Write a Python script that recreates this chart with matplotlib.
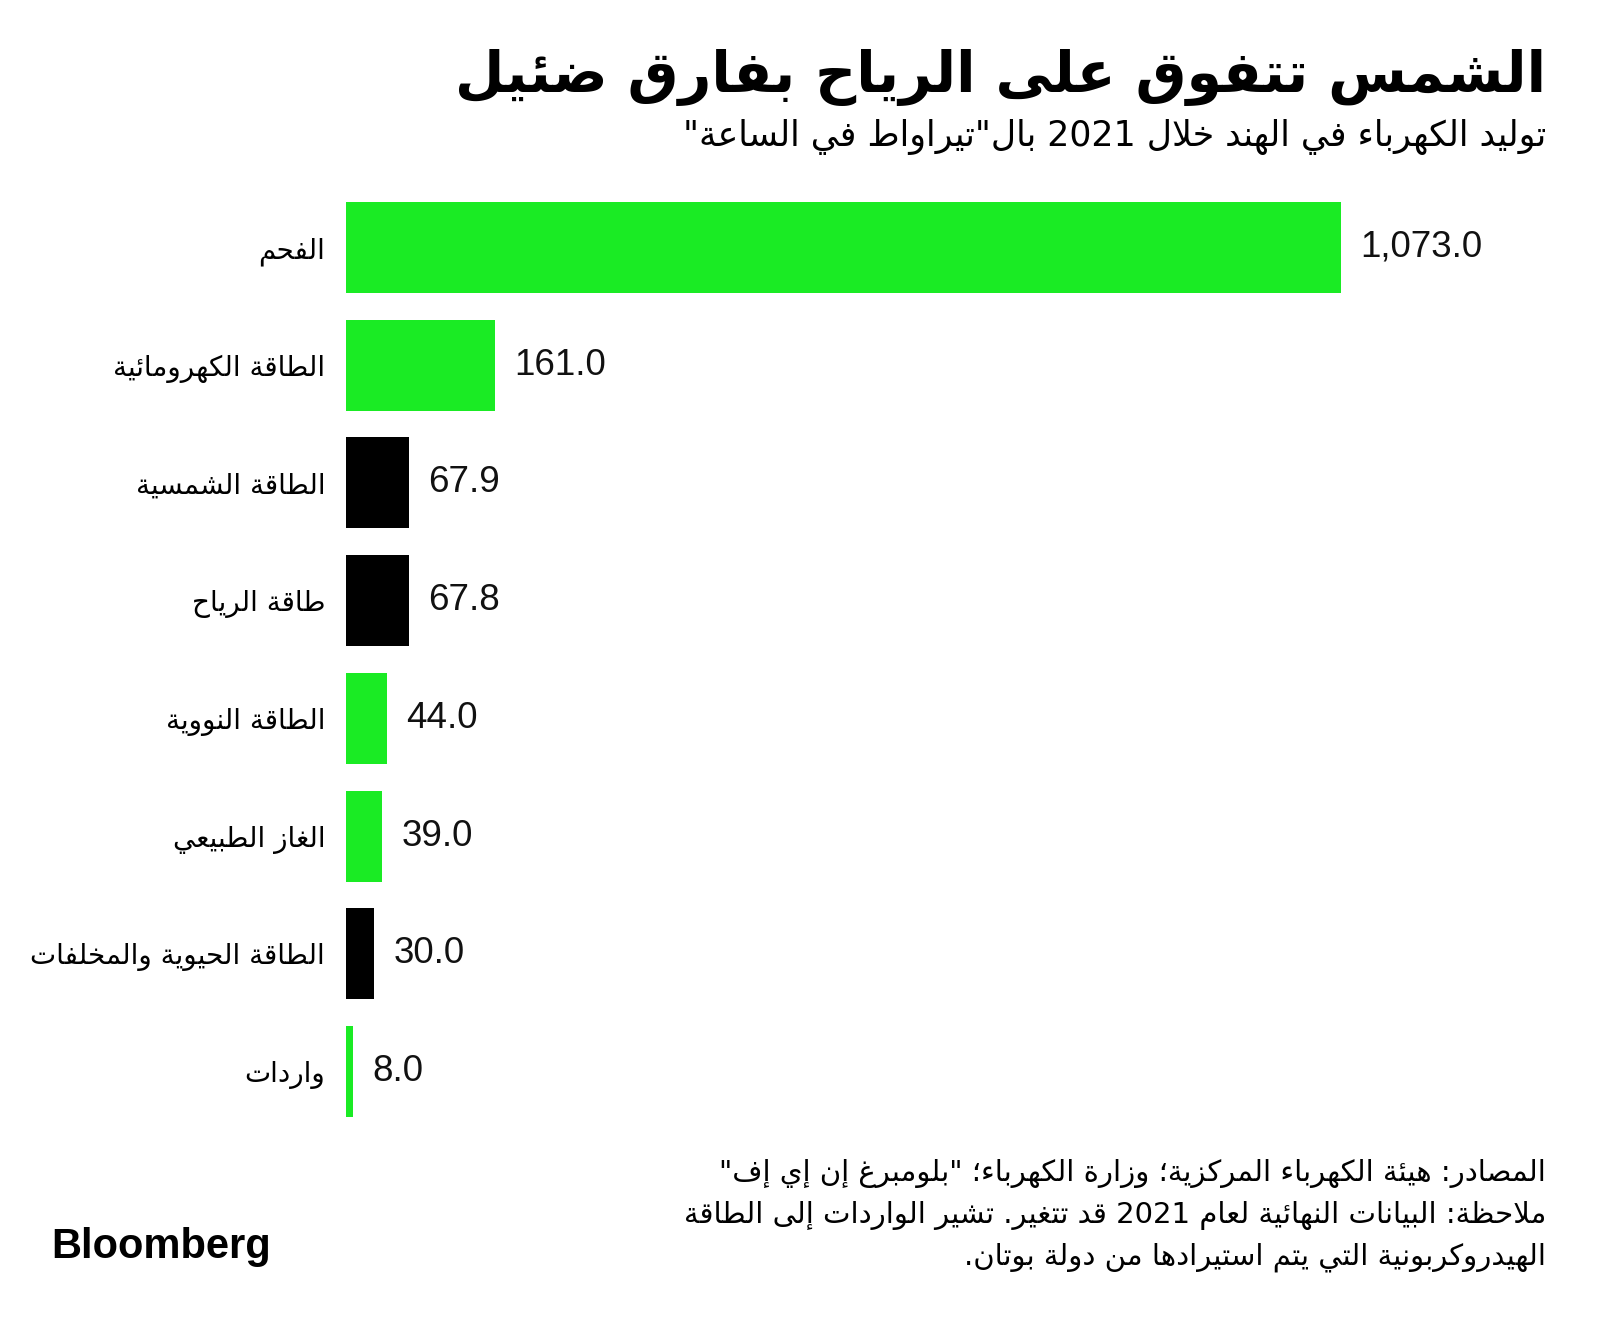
import re
import matplotlib
matplotlib.use("Agg")
import matplotlib.pyplot as plt

# ---------------- data ----------------
categories = ["الفحم", "الطاقة الكهرومائية", "الطاقة الشمسية", "طاقة الرياح",
              "الطاقة النووية", "الغاز الطبيعي", "الطاقة الحيوية والمخلفات", "واردات"]
values = [1073.0, 161.0, 67.9, 67.8, 44.0, 39.0, 30.0, 8.0]
highlight = [False, False, True, True, False, False, True, False]

title = "الشمس تتفوق على الرياح بفارق ضئيل"
subtitle = 'توليد الكهرباء في الهند خلال 2021 بال"تيراواط في الساعة"'
footer_lines = [
    'المصادر: هيئة الكهرباء المركزية؛ وزارة الكهرباء؛ "بلومبرغ إن إي إف"',
    "ملاحظة: البيانات النهائية لعام 2021 قد تتغير. تشير الواردات إلى الطاقة",
    "الهيدروكربونية التي يتم استيرادها من دولة بوتان.",
]
logo = "Bloomberg"

GREEN = "#1aeb24"
BLACK = "#000000"

# ---------------- minimal Arabic shaping + bidi ----------------
_LETTERS = ("\u0621\u0622\u0623\u0624\u0625\u0626\u0627\u0628\u0629\u062A\u062B\u062C\u062D"
            "\u062E\u062F\u0630\u0631\u0632\u0633\u0634\u0635\u0636\u0637\u0638\u0639\u063A"
            "\u0641\u0642\u0643\u0644\u0645\u0646\u0647\u0648\u0649\u064A")
_NFORMS = [1, 2, 2, 2, 2, 4, 2, 4, 2, 4, 4, 4, 4, 4, 2, 2, 2, 2, 4, 4, 4, 4, 4, 4, 4, 4,
           4, 4, 4, 4, 4, 4, 4, 2, 2, 4]
_TABLE = {}
_code = 0xFE80
for _ch, _n in zip(_LETTERS, _NFORMS):
    _TABLE[_ch] = (_code, _n)
    _code += _n
_LAMALEF = {"\u0622": 0xFEF5, "\u0623": 0xFEF7, "\u0625": 0xFEF9, "\u0627": 0xFEFB}


def _shape(s):
    units = []
    i = 0
    while i < len(s):
        c = s[i]
        if c == "\u0644" and i + 1 < len(s) and s[i + 1] in _LAMALEF:
            units.append(("LA", s[i + 1]))
            i += 2
        else:
            units.append(("C", c))
            i += 1

    def jt(u):
        if u[0] == "LA":
            return "R"
        if u[1] in _TABLE:
            n = _TABLE[u[1]][1]
            return "D" if n == 4 else ("R" if n == 2 else "U")
        return "U"

    out = []
    for k, u in enumerate(units):
        t = jt(u)
        prev = jt(units[k - 1]) if k > 0 else "U"
        nxt = jt(units[k + 1]) if k + 1 < len(units) else "U"
        jp = t in ("D", "R") and prev == "D"
        jn = t == "D" and nxt in ("D", "R")
        kind, c = u
        if kind == "LA":
            out.append(chr(_LAMALEF[c] + (1 if jp else 0)))
        elif c in _TABLE:
            base, n = _TABLE[c]
            if n == 1:
                out.append(chr(base))
            elif n == 2:
                out.append(chr(base + (1 if jp else 0)))
            else:
                f = 3 if (jp and jn) else 2 if jn else 1 if jp else 0
                out.append(chr(base + f))
        else:
            out.append(c)
    return "".join(out)


_LTR = re.compile(r"[0-9A-Za-z]+(?:[.,][0-9A-Za-z]+)*")


def rtl(s):
    s = _shape(s)
    parts = []
    pos = 0
    for m in _LTR.finditer(s):
        if m.start() > pos:
            parts.append(s[pos:m.start()][::-1])
        parts.append(m.group())
        pos = m.end()
    if pos < len(s):
        parts.append(s[pos:][::-1])
    return "".join(parts[::-1])


# ---------------- figure ----------------
W, H = 1600, 1325
fig = plt.figure(figsize=(16, 13.25), dpi=100)
fig.patch.set_facecolor("white")

ax_left, ax_right = 346, 1546
top_px, bot_px = 188.6, 1130.4
ax = fig.add_axes([ax_left / W, 1 - bot_px / H, (ax_right - ax_left) / W, (bot_px - top_px) / H])

ypos = list(range(len(categories)))
colors = [BLACK if h else GREEN for h in highlight]
ax.barh(ypos, values, height=0.773, color=colors, align="center")
ax.set_ylim(len(categories) - 0.5, -0.5)
ax.set_xlim(0, 1073.0 * (ax_right - ax_left) / 995.0)

for y, v in zip(ypos, values):
    ax.annotate(f"{v:,.1f}", xy=(v, y), xytext=(14, 0), textcoords="offset points",
                ha="left", va="center", fontsize=26.5, family="Liberation Sans", color="#111111")

ax.set_yticks(ypos)
ax.set_yticklabels([rtl(c) for c in categories], family="DejaVu Sans", fontsize=20)
ax.tick_params(axis="y", length=0, pad=15)
ax.set_xticks([])
for sp in ax.spines.values():
    sp.set_visible(False)

# title and subtitle
fig.text(1546 / W, 1 - 77 / H, rtl(title), ha="right", va="center",
         family="DejaVu Sans", fontweight="bold", fontsize=41, color="black")
fig.text(1546 / W, 1 - 137 / H, rtl(subtitle), ha="right", va="center",
         family="DejaVu Sans", fontsize=25, color="black")

# footer
for line, yc in zip(footer_lines, [1174, 1215, 1257]):
    fig.text(1546 / W, 1 - yc / H, rtl(line), ha="right", va="center",
             family="DejaVu Sans", fontsize=21, color="black")

fig.text(51 / W, 1 - 1258 / H, logo, ha="left", va="baseline",
         family="Liberation Sans", fontweight="bold", fontsize=30, color="black")

fig.savefig("out.png", dpi=100, facecolor="white")
